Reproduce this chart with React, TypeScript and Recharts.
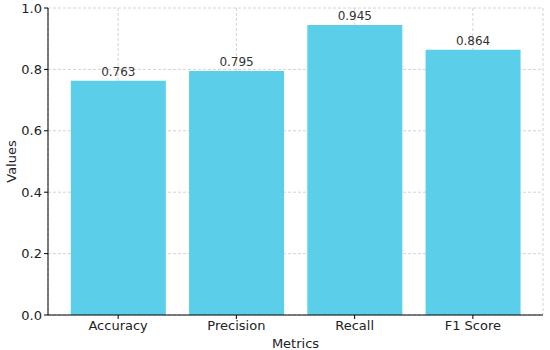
import * as React from 'react';
import { BarChart, Bar, XAxis, YAxis, CartesianGrid, LabelList } from 'recharts';

const metrics = ['Accuracy', 'Precision', 'Recall', 'F1 Score'];
const values = [0.763, 0.795, 0.945, 0.864];
const yTicks = [0, 0.2, 0.4, 0.6, 0.8, 1.0];

const FONT = '"DejaVu Sans", sans-serif';
const BAR_COLOR = '#5bcfea';

export default function App() {
  const data = metrics.map((m, i) => ({ metric: m, value: values[i] }));

  return (
    <div style={{ position: 'absolute', left: 0, top: 0, width: 550, height: 350, background: '#fff', fontFamily: FONT }}>
      <BarChart
        width={550}
        height={350}
        data={data}
        margin={{ top: 8, right: 7, bottom: 0, left: 0 }}
        barCategoryGap="10%"
      >
        <XAxis
          dataKey="metric"
          height={35}
          padding={{ left: 11, right: 11 }}
          axisLine={{ stroke: '#000', strokeWidth: 1 }}
          tickLine={{ stroke: '#000' }}
          tickSize={4}
          tick={{ fill: '#222', fontSize: 13, fontFamily: FONT }}
          label={{
            value: 'Metrics',
            position: 'insideBottom',
            offset: 2,
            fill: '#222',
            fontSize: 13,
            fontFamily: FONT,
          }}
        />
        <YAxis
          width={48}
          domain={[0, 1]}
          ticks={yTicks}
          tickFormatter={(v: number) => v.toFixed(1)}
          axisLine={{ stroke: '#000', strokeWidth: 1 }}
          tickLine={{ stroke: '#000' }}
          tickSize={4}
          tick={{ fill: '#222', fontSize: 13, fontFamily: FONT }}
          label={{
            value: 'Values',
            angle: -90,
            position: 'insideLeft',
            offset: 11,
            style: { textAnchor: 'middle' },
            fill: '#222',
            fontSize: 13,
            fontFamily: FONT,
          }}
        />
        <Bar dataKey="value" fill={BAR_COLOR} isAnimationActive={false}>
          <LabelList
            dataKey="value"
            position="top"
            offset={5}
            formatter={(v: number) => v.toFixed(3)}
            style={{ fill: '#333', fontSize: 12, fontFamily: FONT }}
          />
        </Bar>
        <CartesianGrid stroke="#c8c8c8" strokeDasharray="3 2" strokeOpacity={0.8} />
      </BarChart>
    </div>
  );
}
